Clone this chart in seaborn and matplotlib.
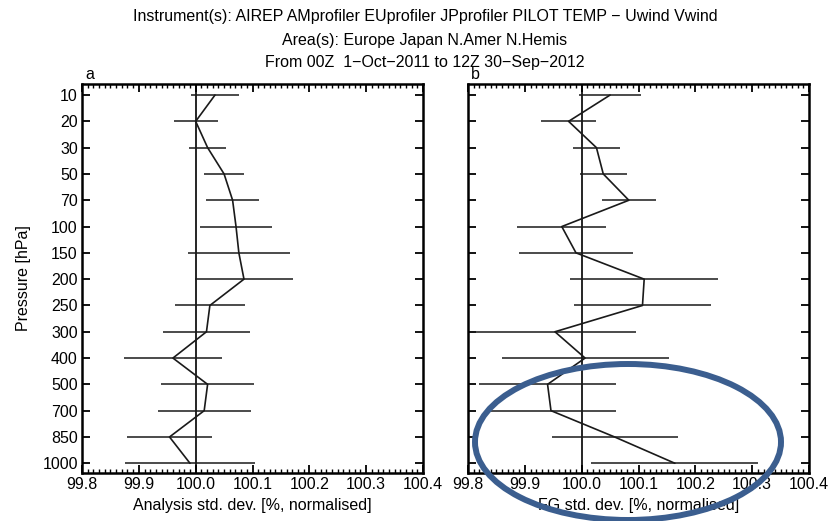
import numpy as np
import pandas as pd
import matplotlib
matplotlib.use("Agg")
import matplotlib.pyplot as plt
from matplotlib.patches import Ellipse
from matplotlib.ticker import MultipleLocator, FixedLocator
import seaborn as sns

levels = ['10', '20', '30', '50', '70', '100', '150', '200', '250', '300',
          '400', '500', '700', '850', '1000']
an_mean = [100.034, 100.000, 100.021, 100.050, 100.065, 100.071, 100.076, 100.085,
           100.025, 100.019, 99.960, 100.021, 100.015, 99.954, 99.990]
an_err = [0.043, 0.039, 0.033, 0.035, 0.046, 0.063, 0.090, 0.086,
          0.062, 0.076, 0.086, 0.082, 0.082, 0.075, 0.114]
fg_mean = [100.050, 99.977, 100.026, 100.038, 100.083, 99.965, 99.990, 100.110,
           100.107, 99.953, 100.006, 99.940, 99.946, 100.058, 100.164]
fg_err = [0.055, 0.048, 0.041, 0.041, 0.047, 0.078, 0.100, 0.130,
          0.121, 0.142, 0.147, 0.121, 0.114, 0.111, 0.147]

title_lines = ["Instrument(s): AIREP AMprofiler EUprofiler JPprofiler PILOT TEMP \u2212 Uwind Vwind",
               "Area(s): Europe Japan N.Amer N.Hemis",
               "From 00Z  1\u2212Oct\u22122011 to 12Z 30\u2212Sep\u22122012"]
xlabels = ["Analysis std. dev. [%, normalised]", "FG std. dev. [%, normalised]"]
panel_labels = ["a", "b"]
xticks = [99.8, 99.9, 100.0, 100.1, 100.2, 100.3, 100.4]

sns.set_style("ticks")
plt.rcParams['font.family'] = ['Liberation Sans', 'DejaVu Sans']
plt.rcParams['text.color'] = 'black'
plt.rcParams['axes.labelcolor'] = 'black'
plt.rcParams['xtick.color'] = 'black'
plt.rcParams['ytick.color'] = 'black'

fig = plt.figure(figsize=(8.31, 5.21), dpi=100)
ax1 = fig.add_axes([82 / 831, 48 / 521, 341 / 831, 389 / 521])
ax2 = fig.add_axes([468 / 831, 48 / 521, 341 / 831, 389 / 521])

pos = np.arange(len(levels))
for ax, mean, err, xl, pl in [(ax1, an_mean, an_err, xlabels[0], panel_labels[0]),
                              (ax2, fg_mean, fg_err, xlabels[1], panel_labels[1])]:
    df = pd.DataFrame({"val": mean, "pos": pos, "err": err})
    ax.axvline(100.0, color='black', lw=1.2, zorder=1)
    ax.errorbar(df["val"], df["pos"], xerr=df["err"], fmt='none', ecolor='#1a1a1a',
                elinewidth=1.1, capsize=0, zorder=2)
    sns.lineplot(data=df, x="val", y="pos", sort=False, estimator=None, orient="y",
                 color='#1a1a1a', lw=1.2, ax=ax, zorder=3)
    ax.set_xlim(99.8, 100.4)
    ax.set_ylim(14.37, -0.42)
    ax.xaxis.set_major_locator(FixedLocator(xticks))
    ax.set_xticklabels([f"{t:.1f}" for t in xticks])
    ax.xaxis.set_minor_locator(MultipleLocator(0.01))
    ax.set_yticks(pos)
    ax.tick_params(axis='both', which='major', direction='in', length=5.5, width=1.3,
                   top=True, right=True, labelsize=11.5, color='black',
                   labelcolor='black', pad=3)
    ax.tick_params(axis='x', which='minor', direction='in', length=3, width=1.0,
                   top=True, bottom=True, color='black')
    for s in ax.spines.values():
        s.set_linewidth(1.8)
        s.set_color('black')
        s.set_visible(True)
    ax.set_xlabel(xl, fontsize=11.5, labelpad=4, color='black')
    ax.set_ylabel("")
    ax.text(0.01, 1.004, pl, transform=ax.transAxes, fontsize=11.5, ha='left',
            va='bottom', color='black')

ax1.set_yticklabels(levels)
ax2.set_yticklabels([])
ax1.set_ylabel("Pressure [hPa]", fontsize=11.5, labelpad=8, color='black')

ys = [1 - 17 / 521, 1 - 40 / 521, 1 - 62 / 521]
for t, y in zip(title_lines, ys):
    fig.text(425 / 831, y, t, ha='center', va='center', fontsize=11.5, color='black')

ell = Ellipse((628 / 831, 1 - 442 / 521), 306 / 831, 156 / 521, transform=fig.transFigure,
              fill=False, edgecolor='#3b5e8f', lw=4.3, zorder=10)
fig.patches.append(ell)

fig.savefig("out.png", dpi=100)
